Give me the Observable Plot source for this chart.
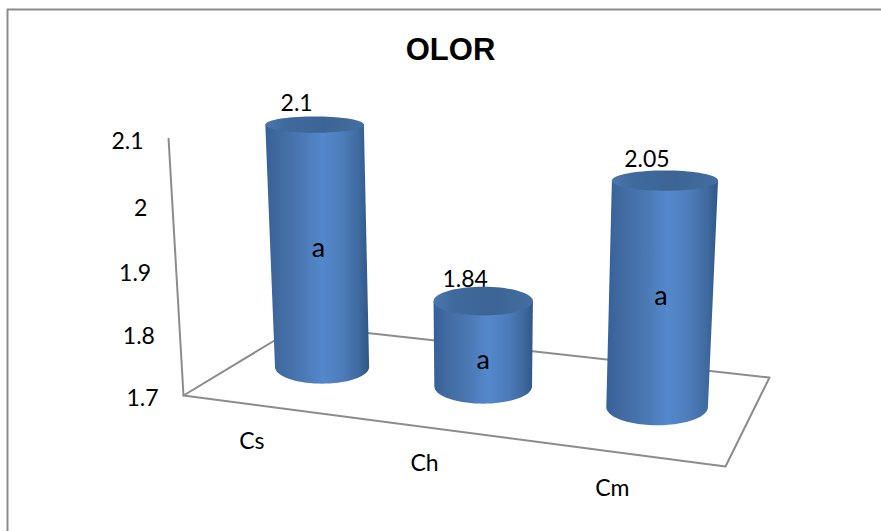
<!DOCTYPE html>
<html>
<head>
<meta charset="utf-8">
<script src="https://cdn.jsdelivr.net/npm/d3@7"></script>
<script src="https://cdn.jsdelivr.net/npm/@observablehq/plot@0.6"></script>
<style>
  html, body { margin: 0; padding: 0; background: #fff; }
  svg { display: block; }
</style>
</head>
<body>
<div id="chart"></div>
<script>
// Chart content
const chartTitle = "OLOR";
const categories = ["Cs", "Ch", "Cm"];
const values = [2.1, 1.84, 2.05];
const significance = ["a", "a", "a"];
const valueTicks = [1.7, 1.8, 1.9, 2, 2.1];

// Stage: floor corners on the page and the point the verticals converge to
const floor = {A: [183, 395], B: [725, 466], C: [769, 377], D: [299, 325]};
const vertical = {x: 480, y: 5500, strength: -0.0479};
const floorDepth = 0.5;
const radius = 50;

// Normalised height along the value axis
const rise = Plot.scale({y: {type: "linear", domain: [1.7, 2.1], range: [0, 1]}});

// Perspective map of the unit floor square, extended upward by the value axis
const project = (() => {
  const [x0, y0] = floor.A, [x1, y1] = floor.B, [x2, y2] = floor.C, [x3, y3] = floor.D;
  const dx1 = x1 - x2, dx2 = x3 - x2, sx = x0 - x1 + x2 - x3;
  const dy1 = y1 - y2, dy2 = y3 - y2, sy = y0 - y1 + y2 - y3;
  const den = dx1 * dy2 - dx2 * dy1;
  const g = (sx * dy2 - dx2 * sy) / den, h = (dx1 * sy - sx * dy1) / den;
  const a = x1 - x0 + g * x1, b = x3 - x0 + h * x3;
  const d = y1 - y0 + g * y1, e = y3 - y0 + h * y3;
  return (t, depth, value) => {
    const z = rise.apply(value) * vertical.strength;
    const w = g * t + h * depth + 1 + z;
    return {
      x: (a * t + b * depth + x0 + z * vertical.x) / w,
      y: (d * t + e * depth + y0 + z * vertical.y) / w,
      w
    };
  };
})();

const slot = (i) => (i + 0.5) / categories.length;
const ellipseAt = (p) => ({rx: radius / p.w, ry: 0.035 * (p.y + 110)});

// Outline of a cylinder wall and of its top cap
function wall(i) {
  const top = project(slot(i), floorDepth, values[i]);
  const base = project(slot(i), floorDepth, 1.7);
  const er = ellipseAt(base), et = ellipseAt(top);
  const pts = [{x: top.x - et.rx, y: top.y}];
  for (const k of d3.range(0, 37)) {
    const ang = Math.PI * (1 - k / 36);
    pts.push({x: base.x + er.rx * Math.cos(ang), y: base.y + er.ry * Math.sin(ang)});
  }
  pts.push({x: top.x + et.rx, y: top.y});
  return pts;
}
function cap(i) {
  const top = project(slot(i), floorDepth, values[i]);
  const et = ellipseAt(top);
  return d3.range(0, 73).map((k) => {
    const ang = 2 * Math.PI * k / 72;
    return {x: top.x + et.rx * Math.cos(ang), y: top.y + et.ry * Math.sin(ang)};
  });
}

const topPoints = categories.map((c, i) => ({...project(slot(i), floorDepth, values[i]), label: String(values[i])}));
const noteHeight = [0.5, 0.31, 0.5];
const notePoints = categories.map((c, i) => {
  const v = 1.7 + (values[i] - 1.7) * noteHeight[i];
  return {...project(slot(i), floorDepth, v), label: significance[i]};
});
const categoryPoints = categories.map((c, i) => ({...project(slot(i), 0, 1.7), label: c}));
const tickPoints = valueTicks.map((v) => ({...project(0, 0, v), label: String(v)}));

const floorOutline = [floor.D, floor.A, floor.B, floor.C, floor.D].map(([x, y]) => ({x, y}));
const axisLine = [project(0, 0, 1.7), project(0, 0, 2.1)];

// Gradients for the cylinder wall and cap
function gradients() {
  const defs = d3.create("svg:defs");
  const addStops = (id, stops) => {
    const lg = defs.append("linearGradient").attr("id", id).attr("x1", 0).attr("x2", 1).attr("y1", 0).attr("y2", 0);
    for (const [o, c] of stops) lg.append("stop").attr("offset", o).attr("stop-color", c);
  };
  addStops("wallShade", [[0, "#35609a"], [0.12, "#40699f"], [0.35, "#4a78b4"], [0.55, "#5488cc"], [0.75, "#4c7cba"], [0.9, "#3f6a9f"], [1, "#2f5788"]]);
  addStops("capShade", [[0, "#4a77ad"], [0.2, "#3f6a9d"], [0.6, "#3c6595"], [1, "#436e9f"]]);
  return defs.node();
}

const textStyle = {fontFamily: "Lato, 'Open Sans', sans-serif", fontSize: 23, fill: "#000"};
const gridStroke = {stroke: "#8c8c8c", strokeWidth: 2};

const chart = Plot.plot({
  width: 881,
  height: 531,
  margin: 0,
  style: {background: "#fff"},
  x: {type: "linear", domain: [0, 881], range: [0, 881], axis: null},
  y: {type: "linear", domain: [0, 531], range: [0, 531], axis: null},
  marks: [
    gradients,
    // Chart frame
    Plot.ruleX([7], {y1: 9, y2: 531, ...gridStroke}),
    Plot.ruleY([9], {x1: 7, x2: 881, ...gridStroke}),
    // Floor and value axis
    Plot.line(floorOutline, {x: "x", y: "y", ...gridStroke}),
    Plot.line(axisLine, {x: "x", y: "y", ...gridStroke}),
    // Tick, category and value labels
    Plot.text(tickPoints, {x: "x", y: "y", text: "label", dx: -25, dy: 3, textAnchor: "end", ...textStyle}),
    Plot.text(categoryPoints, {x: "x", y: "y", text: "label", dx: -13, dy: 35, ...textStyle}),
    Plot.text(topPoints, {x: "x", y: "y", text: "label", dx: -18, dy: -21, ...textStyle}),
    // Cylinders
    ...categories.flatMap((c, i) => [
      Plot.line(wall(i), {x: "x", y: "y", stroke: "none", fill: "url(#wallShade)"}),
      Plot.line(cap(i), {x: "x", y: "y", stroke: "none", fill: "url(#capShade)"})
    ]),
    Plot.text(notePoints, {x: "x", y: "y", text: "label", ...textStyle, fontSize: 27}),
    // Title
    Plot.text([chartTitle], {frameAnchor: "top", dy: 50, text: (d) => d, x: 450, y: 0, lineAnchor: "middle", fontFamily: "'Liberation Sans', Arial, sans-serif", fontWeight: "bold", fontSize: 31, fill: "#000"})
  ]
});
document.getElementById("chart").append(chart);
</script>
</body>
</html>
